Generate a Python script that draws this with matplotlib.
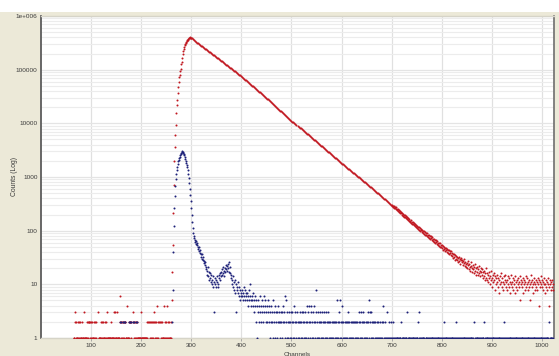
import numpy as np
import matplotlib
matplotlib.use("Agg")
import matplotlib.pyplot as plt
from matplotlib.patches import Rectangle
from matplotlib.ticker import LogLocator, NullFormatter

# ---------------------------------------------------------------------------
# Decay histogram: counts per channel for the sample (red) and the
# instrument response (blue).
# ---------------------------------------------------------------------------

# Sample: background and rising edge, channels 65..299 (one per channel)
red_first = 65
red_counts_rise = [
    1, 1, 3, 2, 1,
    2, 1, 1, 2, 1, 2, 1, 1, 2, 1,
    1, 2, 1, 1, 1, 3, 1, 1, 1, 1,
    1, 2, 1, 2, 1, 2, 2, 1, 2, 1,
    2, 1, 2, 1, 1, 2, 1, 2, 1, 2,
    1, 0, 0, 3, 0, 1, 1, 1, 1, 2,
    1, 2, 1, 1, 2, 1, 1, 2, 1, 1,
    2, 1, 3, 1, 1, 1, 1, 1, 1, 2,
    1, 1, 1, 1, 1, 3, 1, 3, 1, 1,
    1, 1, 3, 1, 1, 1, 1, 6, 2, 1,
    2, 1, 2, 2, 1, 2, 1, 2, 2, 1,
    1, 4, 1, 1, 1, 2, 1, 2, 2, 1,
    2, 0, 0, 2, 3, 2, 1, 2, 1, 2,
    1, 2, 1, 1, 1, 1, 1, 1, 1, 3,
    1, 1, 1, 1, 1, 1, 1, 1, 1, 1,
    1, 1, 2, 2, 0, 0, 2, 1, 2, 1,
    2, 1, 2, 1, 2, 3, 2, 1, 2, 1,
    2, 1, 4, 2, 1, 2, 0, 0, 2, 1,
    2, 1, 2, 1, 1, 4, 1, 1, 2, 1,
    2, 1, 4, 2, 1, 2, 1, 1, 1, 1,
    2, 5, 17, 54, 210, 700, 2000, 3600, 6000, 9300,
    15500, 22000, 27000, 37000, 48000, 60000, 72000, 80000, 95000, 105000,
    125000, 141000, 165000, 200000, 220000, 240000, 260000, 285000, 300000, 315000,
    330000, 340000, 350000, 362000, 373000, 382000, 390000, 396000, 399000, 397000,
]

# Sample: main decay, channels 300..698 (every second channel)
red_decay_first = 300
red_decay_step = 2
red_counts_decay = [
    394000, 381000, 368000, 355000, 343000, 331000,
    320500, 310300, 300500, 290900, 281700, 272800, 264100, 255800, 247700, 239800,
    232200, 224900, 217700, 210800, 204200, 197700, 191400, 185400, 179500, 173800,
    168100, 162700, 157400, 152200, 147300, 142500, 137800, 133300, 129000, 124800,
    120700, 116800, 113000, 109300, 105700, 102300, 98930, 95700, 92580, 89560,
    86640, 83820, 81090, 78440, 75880,
    73130, 70490, 67930, 65470, 63100, 60820, 58610, 56490, 54450, 52480,
    50580, 48750, 46980, 45280, 43640, 42060, 40540, 39070, 37650, 36290,
    34980, 33710, 32490, 31310, 30180,
    29010, 27880, 26800, 25760, 24760, 23800, 22880, 21990, 21140, 20320,
    19530, 18770, 18040, 17340, 16670, 16020, 15400, 14800, 14230, 13680,
    13150, 12640, 12150, 11680, 11220,
    10810, 10420, 10050, 9682, 9331, 8993, 8668, 8354, 8051, 7760,
    7479, 7208, 6947, 6696, 6453, 6220, 5995, 5778, 5568, 5367,
    5173, 4985, 4805, 4631, 4463, 4302, 4146, 3996, 3851, 3712,
    3577, 3448, 3323, 3203, 3087, 2975, 2867, 2763, 2663, 2567,
    2474, 2384, 2298, 2215, 2135, 2057, 1983, 1911, 1842, 1775,
    1714, 1655, 1598, 1543, 1490, 1439, 1389, 1341, 1295, 1251,
    1208, 1166, 1126, 1087, 1050, 1014, 979, 945, 913, 881,
    851, 822, 793, 766, 740,
    713, 687, 662, 638, 615, 593, 571, 551, 531, 512,
    493, 475, 458, 441, 425, 410, 395, 381, 367, 354,
    341, 328, 316, 305,
]

# Sample: tail, channels 700..1023 (one per channel)
red_tail_first = 700
red_counts_tail = [
    301, 284, 290, 276, 288, 266, 279, 262, 271, 255,
    252, 238, 249, 231, 240, 219, 234, 214, 222, 209,
    211, 196, 204, 188, 199, 183, 192, 178, 186, 171,
    178, 163, 170, 158, 149, 162, 151, 146, 155, 139,
    148, 136, 142, 131, 127, 138, 121, 133, 118, 126,
    124, 112, 119, 108, 115, 103, 111, 99, 107, 101,
    105, 94, 99, 91, 97, 86, 95, 84, 90, 82,
    89, 80, 84, 77, 83, 73, 81, 70, 78, 72,
    75, 68, 71, 64, 70, 62, 67, 59, 66, 61,
    64, 57, 60, 54, 59, 52, 58, 50, 55, 49,
    54, 47, 51, 44, 50, 45, 48, 41, 47, 43,
    46, 40, 44, 38, 43, 36, 42, 39, 35, 41,
    39, 34, 37, 31, 36, 33, 29, 35, 30, 34,
    32, 28, 31, 26, 33, 27, 30, 24, 29, 31,
    26, 29, 23, 27, 25, 30, 22, 26, 24, 21,
    25, 20, 23, 27, 19, 24, 21, 18, 22, 26,
    20, 17, 23, 19, 16, 21, 24, 18, 15, 20,
    17, 21, 15, 19, 22, 16, 18, 14, 20, 17,
    15, 19, 13, 17, 14, 18, 12, 16, 20, 13,
    16, 12, 15, 11, 17, 13, 10, 14, 18, 12,
    13, 9, 15, 11, 16, 12, 8, 14, 10, 13,
    11, 15, 9, 13, 7, 12, 14, 10, 16, 11,
    9, 13, 11, 8, 14, 10, 12, 15, 9, 11,
    12, 8, 10, 14, 9, 13, 7, 11, 15, 10,
    11, 9, 13, 8, 12, 10, 14, 7, 11, 9,
    12, 8, 10, 13, 9, 11, 5, 14, 10, 12,
    9, 11, 7, 13, 10, 12, 8, 11, 14, 9,
    10, 13, 8, 11, 9, 12, 5, 10, 15, 11,
    9, 12, 10, 7, 13, 11, 8, 10, 12, 9,
    11, 8, 13, 10, 4, 12, 9, 11, 14, 10,
    9, 12, 8, 11, 10, 13, 7, 10, 12, 9,
    11, 8, 10, 13, 9, 4, 12, 10, 8, 11,
    9, 12, 10, 8,
]

# Instrument response: stray background counts, channels 156..192
blue_bg_first = 156
blue_counts_bg = [
    0, 0, 2, 0, 2, 0, 0, 2, 0, 2,
    0, 2, 0, 0, 0, 0, 0, 0, 0, 2,
    0, 0, 2, 0, 2, 0, 0, 2, 0, 0,
    2, 0, 0, 2, 0, 0, 2,
]

# Instrument response: peak, channels 262..330
blue_peak_first = 262
blue_counts_peak = [
    2, 8, 40, 120, 260, 450, 680, 900, 1150, 1350,
    1550, 1750, 1950, 2100, 2250, 2400, 2560, 2700, 2850, 2950,
    3000, 2950, 2850, 2700, 2560, 2400, 2200, 2000, 1800, 1650,
    1550, 1350, 1150, 950, 760, 600, 460, 350, 260, 195,
    145, 110, 92, 80, 72, 68, 61, 64, 57, 53,
    58, 49, 46, 50, 42, 39, 44, 36, 33, 37,
    30, 28, 32, 25, 27, 23, 26, 21, 19,
]

# Instrument response: tail, channels 331..1023
blue_tail_first = 331
blue_counts_tail = [
    18, 15, 21, 14, 17, 12, 16, 13, 11, 15,
    12, 10, 14, 9, 11, 3, 13, 10, 9, 12,
    11, 14, 10, 9, 13, 15, 12, 16, 14, 17,
    15, 19, 16, 21, 18, 14, 20, 17, 23, 19,
    22, 18, 24, 20, 17, 26, 21, 16, 13, 15,
    12, 10, 14, 9, 11, 8, 12, 7, 10, 3,
    9, 8, 11, 7, 6, 9, 8, 5, 7, 6,
    8, 6, 7, 5, 9, 6, 5, 8, 6, 7,
    5, 7, 6, 4, 8, 5, 6, 10, 5, 4,
    6, 5, 4, 7, 3, 5, 4, 6, 2, 5,
    4, 1, 3, 5, 2, 4, 6, 3, 4, 2,
    5, 3, 4, 2, 6, 3, 4, 5, 2, 3,
    4, 2, 3, 5, 2, 4, 1, 3, 2, 4,
    3, 2, 1, 5, 3, 2, 4, 1, 3, 2,
    1, 3, 2, 4, 2, 3, 1, 2, 3, 2,
    3, 1, 2, 4, 2, 3, 1, 6, 5, 2,
    1, 3, 2, 1, 3, 2, 1, 2, 3, 1,
    2, 3, 1, 2, 4, 1, 3, 2, 1, 2,
    3, 1, 2, 2, 1, 3, 2, 1, 2, 3,
    1, 2, 3, 1, 2, 1, 3, 2, 1, 4,
    2, 1, 3, 4, 2, 1, 2, 3, 4, 1,
    2, 3, 1, 2, 4, 1, 2, 3, 8, 1,
    2, 1, 3, 2, 1, 3, 2, 1, 2, 1,
    3, 2, 1, 2, 3, 1, 2, 3, 1, 2,
    1, 3, 2, 1, 2, 1, 2, 0, 1, 2,
    1, 2, 1, 0, 2, 1, 2, 1, 2, 5,
    1, 2, 1, 3, 2, 5, 1, 2, 1, 4,
    2, 1, 2, 1, 0, 2, 1, 2, 1, 2,
    1, 2, 3, 1, 2, 1, 0, 2, 1, 2,
    1, 2, 1, 2, 0, 1, 2, 1, 2, 1,
    2, 1, 0, 2, 3, 1, 2, 1, 3, 2,
    1, 2, 3, 1, 2, 1, 0, 2, 1, 2,
    1, 2, 3, 1, 5, 2, 3, 1, 3, 2,
    1, 2, 1, 0, 2, 1, 2, 1, 0, 1,
    2, 1, 2, 0, 1, 2, 1, 0, 1, 2,
    1, 4, 2, 1, 0, 1, 2, 1, 0, 1,
    3, 1, 0, 2, 1, 0, 1, 2, 1, 0,
    1, 2, 1, 0, 1, 1, 0, 1, 0, 1,
    1, 0, 1, 1, 0, 1, 1, 0, 2, 1,
    0, 1, 1, 0, 1, 1, 0, 1, 1, 0,
    3, 1, 0, 1, 1, 0, 1, 0, 1, 1,
    0, 1, 1, 0, 1, 0, 1, 1, 0, 1,
    1, 0, 2, 1, 3, 0, 1, 1, 0, 1,
    0, 1, 1, 0, 1, 0, 0, 1, 1, 0,
    1, 0, 1, 1, 0, 1, 0, 1, 0, 1,
    1, 0, 1, 0, 1, 1, 0, 1, 0, 1,
    0, 1, 1, 0, 1, 0, 1, 0, 1, 1,
    0, 1, 0, 1, 2, 1, 0, 1, 1, 0,
    1, 0, 1, 1, 0, 1, 0, 1, 0, 1,
    1, 0, 1, 0, 1, 1, 0, 1, 2, 0,
    1, 0, 1, 1, 0, 1, 0, 0, 1, 1,
    0, 1, 0, 1, 1, 0, 1, 0, 1, 0,
    1, 1, 0, 1, 0, 1, 0, 1, 1, 0,
    1, 0, 1, 0, 2, 1, 0, 1, 0, 1,
    1, 0, 1, 0, 1, 1, 0, 1, 0, 1,
    0, 1, 1, 0, 2, 1, 0, 1, 0, 1,
    1, 0, 1, 0, 1, 1, 0, 1, 0, 1,
    0, 1, 1, 0, 1, 0, 1, 0, 1, 1,
    0, 1, 0, 1, 1, 0, 1, 0, 1, 0,
    1, 0, 1, 1, 2, 0, 1, 0, 1, 1,
    0, 1, 0, 1, 0, 1, 1, 0, 1, 0,
    1, 1, 0, 1, 0, 1, 0, 1, 1, 0,
    1, 0, 1, 0, 1, 1, 0, 1, 0, 1,
    1, 0, 1, 0, 1, 0, 1, 1, 0, 1,
    0, 1, 1, 0, 1, 0, 1, 0, 1, 1,
    0, 1, 0, 1, 1, 0, 1, 0, 1, 0,
    1, 1, 0, 1, 0, 1, 0, 1, 1, 0,
    1, 0, 1, 0, 1, 1, 0, 1, 0, 1,
    1, 0, 1, 0, 2, 1, 0, 1, 1, 0,
    1, 0, 1,
]

x_ticks = [100, 200, 300, 400, 500, 600, 700, 800, 900, 1000]
y_ticks = [1, 10, 100, 1000, 10000, 100000, 1000000]
y_tick_labels = ["1", "10", "100", "1000", "10000", "100000", "1e+006"]
x_title = "Channels"
y_title = "Counts (Log)"


def segment(first, counts, step=1):
    """Channel positions and counts of one run, zero-count channels dropped."""
    c = np.asarray(counts, dtype=float)
    ch = first + step * np.arange(len(c))
    keep = c > 0
    return ch[keep], c[keep]


def join(*parts):
    xs = np.concatenate([p[0] for p in parts])
    ys = np.concatenate([p[1] for p in parts])
    return xs, ys


red_x, red_y = join(
    segment(red_first, red_counts_rise),
    segment(red_decay_first, red_counts_decay, red_decay_step),
    segment(red_tail_first, red_counts_tail),
)
blue_x, blue_y = join(
    segment(blue_bg_first, blue_counts_bg),
    segment(blue_peak_first, blue_counts_peak),
    segment(blue_tail_first, blue_counts_tail),
)

# ---------------------------------------------------------------------------
W, H = 559, 356
FRAME = "#ece9d8"
TEXT = "#3a3a3a"
plt.rcParams["font.family"] = ["Liberation Sans", "DejaVu Sans"]

fig = plt.figure(figsize=(W / 100, H / 100), dpi=100, facecolor=FRAME)
fig.add_artist(Rectangle((0, (H - 12) / H), 1, 12 / H, transform=fig.transFigure,
                         facecolor="white", edgecolor="none", zorder=-5))

ax = fig.add_axes([41 / W, (H - 338) / H, (554 - 41) / W, (338 - 16) / H])
ax.set_facecolor("white")
ax.set_yscale("log")
ax.set_xlim(0, 1024)
ax.set_ylim(1, 1e6)

ax.set_xticks(x_ticks)
ax.set_xticklabels([str(t) for t in x_ticks])
ax.set_yticks(y_ticks)
ax.set_yticklabels(y_tick_labels)
ax.yaxis.set_minor_locator(LogLocator(base=10, subs=range(2, 10), numticks=20))
ax.yaxis.set_minor_formatter(NullFormatter())

ax.set_axisbelow(True)
ax.grid(axis="x", which="major", color="#e0e0e0", lw=0.9)
ax.grid(axis="y", which="major", color="#e4e4e4", lw=0.9)
ax.grid(axis="y", which="minor", color="#ececec", lw=0.8)

ax.tick_params(axis="x", which="major", length=2.0, width=0.6, color="#9a9a9a",
               pad=1.4, labelsize=4.6, labelcolor=TEXT)
ax.tick_params(axis="y", which="both", length=0, pad=2.5,
               labelsize=4.6, labelcolor=TEXT)

for side, col, lw in (("left", "#5c5c5c", 1.3), ("right", "#6e6e6e", 1.2),
                      ("top", "#d6d4c8", 1.0), ("bottom", "#d6d4c8", 1.0)):
    ax.spines[side].set_color(col)
    ax.spines[side].set_linewidth(lw)

ax.plot(red_x, red_y, linestyle="none", marker="o", markersize=1.45,
        markeredgewidth=0, color="#c0161f", zorder=3)
ax.plot(blue_x, blue_y, linestyle="none", marker="o", markersize=1.45,
        markeredgewidth=0, color="#1c2078", zorder=4)

fig.text(14.5 / W, 1 - 177 / H, y_title, rotation=90, ha="center", va="center",
         fontsize=4.9, color=TEXT)
fig.text(297 / W, 1 - 355.6 / H, x_title, ha="center", va="baseline",
         fontsize=4.6, color=TEXT)

fig.savefig("out.png", dpi=100, facecolor=FRAME)
